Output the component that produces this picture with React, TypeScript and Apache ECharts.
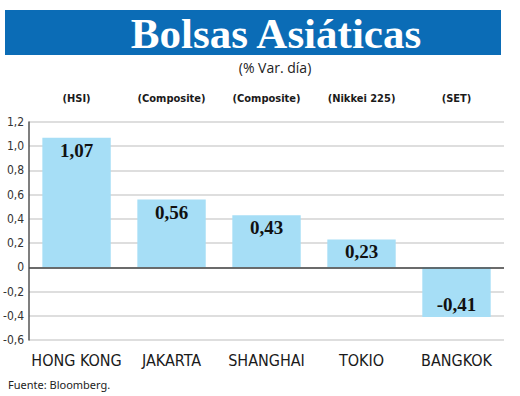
import React, { useEffect, useRef } from "react";
import * as echarts from "echarts";

const categories = ["HONG KONG", "JAKARTA", "SHANGHAI", "TOKIO", "BANGKOK"];
const indices = ["(HSI)", "(Composite)", "(Composite)", "(Nikkei 225)", "(SET)"];
const values = [1.07, 0.56, 0.43, 0.23, -0.41];
const titleText = "Bolsas Asiáticas";
const subtitleText = "(% Var. día)";
const sourceText = "Fuente: Bloomberg.";

const fmt = (v: number) => v.toFixed(2).replace(".", ",");
const tickFmt = (v: number) => (Math.abs(v) < 1e-9 ? "0" : v.toFixed(1).replace(".", ","));

const condensed = "'Liberation Sans Narrow', 'DejaVu Sans Condensed', 'Roboto', sans-serif";

export default function App() {
  const ref = useRef<HTMLDivElement>(null);
  useEffect(() => {
    if (!ref.current) return;
    const chart = echarts.init(ref.current, null, { renderer: "svg" });
    chart.setOption({
      animation: false,
      backgroundColor: "#ffffff",
      graphic: [
        { type: "rect", left: 5, top: 10, shape: { width: 496, height: 45 }, style: { fill: "#0b6cb6" } },
        {
          type: "text",
          x: 276,
          y: 33,
          style: {
            text: titleText,
            fill: "#ffffff",
            font: "bold 43px 'Liberation Serif', 'DejaVu Serif', serif",
            align: "center",
            verticalAlign: "middle",
          },
        },
        {
          type: "text",
          x: 275,
          y: 67,
          style: {
            text: subtitleText,
            fill: "#222",
            font: "14px 'Open Sans', 'Noto Sans', sans-serif",
            align: "center",
            verticalAlign: "middle",
          },
        },
        {
          type: "text",
          x: 8,
          y: 384,
          style: {
            text: sourceText,
            fill: "#222",
            font: "11px 'Noto Sans', 'Open Sans', sans-serif",
            align: "left",
            verticalAlign: "middle",
          },
        },
      ],
      grid: { left: 24, right: 16, top: 122, bottom: 56, containLabel: false },
      xAxis: [
        {
          type: "category",
          data: categories,
          position: "bottom",
          axisLine: { show: false, onZero: false },
          axisTick: { show: false },
          axisLabel: { interval: 0, color: "#1a1a1a", fontSize: 16, fontFamily: condensed, margin: 12 },
        },
        {
          type: "category",
          data: indices,
          position: "top",
          axisLine: { show: false, onZero: false },
          axisTick: { show: false },
          axisLabel: { interval: 0, color: "#1a1a1a", fontSize: 11, fontWeight: "bold", fontFamily: condensed, margin: 18 },
        },
      ],
      yAxis: {
        type: "value",
        min: -0.6,
        max: 1.2,
        interval: 0.2,
        axisLine: { show: true, lineStyle: { color: "#555", width: 1.5 } },
        axisTick: { show: false },
        axisLabel: { color: "#333", fontSize: 12, fontFamily: condensed, margin: 5, formatter: tickFmt },
        splitLine: { lineStyle: { color: "#dedede", width: 2 } },
      },
      series: [
        {
          type: "bar",
          data: values.map((v) => ({
            value: v,
            label: { position: v < 0 ? "insideBottom" : "insideTop", distance: 3 },
          })),
          barWidth: "72%",
          itemStyle: { color: "#a6def6" },
          label: {
            show: true,
            color: "#111",
            fontSize: 19,
            fontWeight: "bold",
            fontFamily: "'Liberation Serif', 'DejaVu Serif', serif",
            formatter: (p: any) => fmt(p.value),
          },
          markLine: {
            silent: true,
            symbol: "none",
            label: { show: false },
            lineStyle: { color: "#444", width: 1.5, type: "solid" },
            data: [{ yAxis: 0 }],
          },
        },
      ],
    });
    return () => chart.dispose();
  }, []);
  return <div ref={ref} style={{ width: 520, height: 396, position: "absolute", left: 0, top: 0 }} />;
}
